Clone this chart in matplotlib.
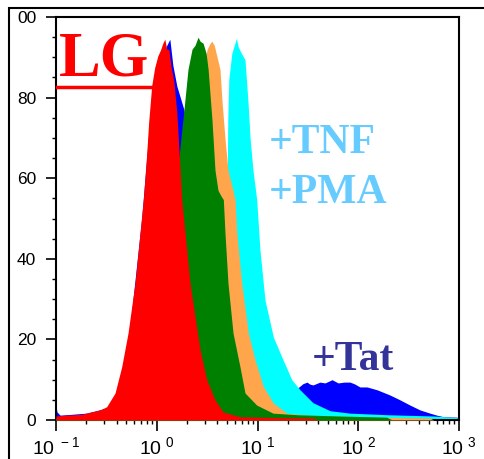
import numpy as np
import matplotlib
matplotlib.use("Agg")
import matplotlib.pyplot as plt
from matplotlib.ticker import FixedLocator, NullFormatter, LogLocator
from matplotlib.patches import Rectangle

plt.rcParams['font.family'] = ['Liberation Sans', 'DejaVu Sans']

# histogram outlines: log10(intensity) and % of max
blue_log = [-1.00, -0.99, -0.96, -0.85, -0.70, -0.60, -0.50, -0.40, -0.30, -0.15, -0.05,
            0.05, 0.10, 0.13, 0.16, 0.20, 0.27, 0.32, 0.40, 0.50, 0.65, 0.85, 1.05,
            1.25, 1.35, 1.402, 1.45, 1.491, 1.52, 1.551, 1.62, 1.67, 1.74, 1.80, 1.86,
            1.918, 1.96, 2.017, 2.087, 2.186, 2.315, 2.414, 2.514, 2.613, 2.712, 2.78,
            2.85, 2.98, 3.0]
blue_pct = [3.5, 2.0, 1.2, 1.4, 1.7, 2.3, 3.0, 6, 15, 50, 80,
            90, 93, 94.5, 88, 82.8, 77, 65, 45, 30, 18, 11, 8,
            7, 7.5, 8, 9, 9.4, 8.9, 8.7, 9.4, 9.2, 10, 9.2, 9.4,
            9.4, 9.0, 8.2, 8.2, 7.5, 6.2, 5.0, 3.7, 2.5, 1.7, 1.2,
            0.8, 0.7, 0]

cyan_log = [-1.0, 0.0, 0.3, 0.45, 0.55, 0.62, 0.70, 0.705, 0.715, 0.745, 0.77, 0.79,
            0.81, 0.84, 0.876, 0.906, 0.926, 0.955, 0.992, 1.025, 1.074, 1.157, 1.24,
            1.34, 1.422, 1.55, 1.72, 1.918, 2.3, 2.742, 2.98, 3.0]
cyan_pct = [0.3, 0.5, 1.5, 8, 25, 45, 62, 74.5, 84.5, 91, 93, 94.7,
            92.5, 91, 89.4, 78.8, 70, 62, 54.7, 42, 29.8, 20.6, 15.7,
            10, 7.5, 4.3, 2.3, 1.7, 1.3, 1.0, 0.6, 0]

orange_log = [-1.0, -0.3, 0.0, 0.2, 0.3, 0.4, 0.45, 0.50, 0.53, 0.548, 0.57, 0.58,
              0.628, 0.648, 0.677, 0.707, 0.757, 0.777, 0.794, 0.843, 0.909, 0.975,
              1.058, 1.157, 1.29, 1.5, 1.9, 2.4, 2.71, 2.75]
orange_pct = [0.3, 0.5, 2, 15, 40, 72, 85, 92, 93.5, 94, 93, 92,
              87, 79, 70, 62, 57, 54.7, 46.5, 34, 21.6, 15,
              8.3, 4.2, 1.7, 1.2, 0.9, 0.6, 0.5, 0]

green_log = [-1.0, -0.5, -0.2, 0.0, 0.1, 0.15, 0.2, 0.24, 0.27, 0.31, 0.35, 0.38,
             0.41, 0.43, 0.46, 0.49, 0.51, 0.548, 0.578, 0.608, 0.64, 0.661, 0.677,
             0.707, 0.757, 0.826, 0.876, 0.992, 1.154, 1.40, 1.80, 2.28, 2.34]
green_pct = [0.5, 0.7, 1.5, 5, 15, 35, 60, 70, 77, 87, 92, 93,
             95, 94, 93.5, 91, 87, 74.5, 62, 57, 55.5, 54.7, 46.5,
             34, 21.6, 13.2, 6.7, 3.7, 1.7, 1.3, 1.0, 0.7, 0]

red_log = [-1.00, -0.90, -0.75, -0.65, -0.563, -0.497, -0.414, -0.348, -0.285, -0.216,
           -0.166, -0.1335, -0.10, -0.08, -0.05, -0.02, 0.01, 0.04, 0.06, 0.08, 0.10,
           0.12, 0.14, 0.17, 0.20, 0.225, 0.248, 0.28, 0.33, 0.38, 0.43, 0.496, 0.578,
           0.658, 0.826, 1.2, 1.55, 1.60]
red_pct = [1.0, 1.2, 1.4, 2.0, 2.5, 3.3, 6.7, 13.2, 21.6, 34,
           46.5, 54.7, 66, 74, 83, 87.5, 90.3, 92, 93.5, 94.5, 92,
           92, 88, 84, 76, 65, 54.7, 46.5, 34, 25.6, 17.4, 10, 5,
           2, 0.8, 0.6, 0.5, 0]

series = [
    (blue_log, blue_pct, '#0000ff'),
    (cyan_log, cyan_pct, '#00ffff'),
    (orange_log, orange_pct, '#ffa64d'),
    (green_log, green_pct, '#008000'),
    (red_log, red_pct, '#ff0000'),
]

y_ticks = [0, 20, 40, 60, 80, 100]
y_labels = ['0', '20', '40', '60', '80', '00']
x_ticks = [0.1, 1, 10, 100, 1000]
x_labels = [r'$\mathregular{10^{\ -1}}$', r'$\mathregular{10^{\ 0}}$',
            r'$\mathregular{10^{\ 1}}$', r'$\mathregular{10^{\ 2}}$',
            r'$\mathregular{10^{\ 3}}$']

fig = plt.figure(figsize=(4.85, 4.59), dpi=100)
ax = fig.add_axes([56/485, 1-420/459, 403/485, 403/459])

for i, (lg, pct, col) in enumerate(series):
    x = 10 ** np.array(lg)
    ax.fill_between(x, 0, pct, color=col, lw=0, zorder=1+i)

ax.set_xscale('log')
ax.set_xlim(0.1, 1000)
ax.set_ylim(0, 100)

ax.set_yticks(y_ticks)
ax.set_yticklabels(y_labels)
ax.yaxis.set_minor_locator(FixedLocator(np.arange(5, 100, 5)))
ax.set_xticks(x_ticks)
ax.set_xticklabels(x_labels)
ax.xaxis.set_minor_locator(LogLocator(base=10, subs=np.arange(2, 10)))
ax.xaxis.set_minor_formatter(NullFormatter())

ax.tick_params(axis='y', which='major', length=7.2, width=1.2, pad=7, labelsize=12.5)
ax.tick_params(axis='y', which='minor', length=3.2, width=1.0)
ax.tick_params(axis='x', which='major', length=8, width=1.2, pad=4, labelsize=14)
ax.tick_params(axis='x', which='minor', length=3.2, width=1.0)
for s in ax.spines.values():
    s.set_linewidth(1.5)

ax.text(0.008, 0.856, 'LG', transform=ax.transAxes, fontsize=45, fontweight='bold',
        family='Liberation Serif', color='#ff0000', va='baseline', ha='left', zorder=10)
ax.plot([0.0025, 0.238], [0.826, 0.826], transform=ax.transAxes, color='#ff0000',
        lw=2.5, clip_on=False, zorder=10)
ax.text(0.528, 0.6625, '+TNF', transform=ax.transAxes, fontsize=30, fontweight='bold',
        family='Liberation Serif', color='#66ccff', va='baseline', ha='left', zorder=10)
ax.text(0.528, 0.538, '+PMA', transform=ax.transAxes, fontsize=30, fontweight='bold',
        family='Liberation Serif', color='#66ccff', va='baseline', ha='left', zorder=10)
ax.text(0.635, 0.124, '+Tat', transform=ax.transAxes, fontsize=30, fontweight='bold',
        family='Liberation Serif', color='#333399', va='baseline', ha='left', zorder=10)

# outer frame of the original panel, cut off at right and bottom
fig.add_artist(Rectangle((9/485, -0.2), 1.5, 0.2 + 1 - 8/459, transform=fig.transFigure,
                         fill=False, lw=1.5, ec='black'))

fig.savefig('out.png', dpi=100)
